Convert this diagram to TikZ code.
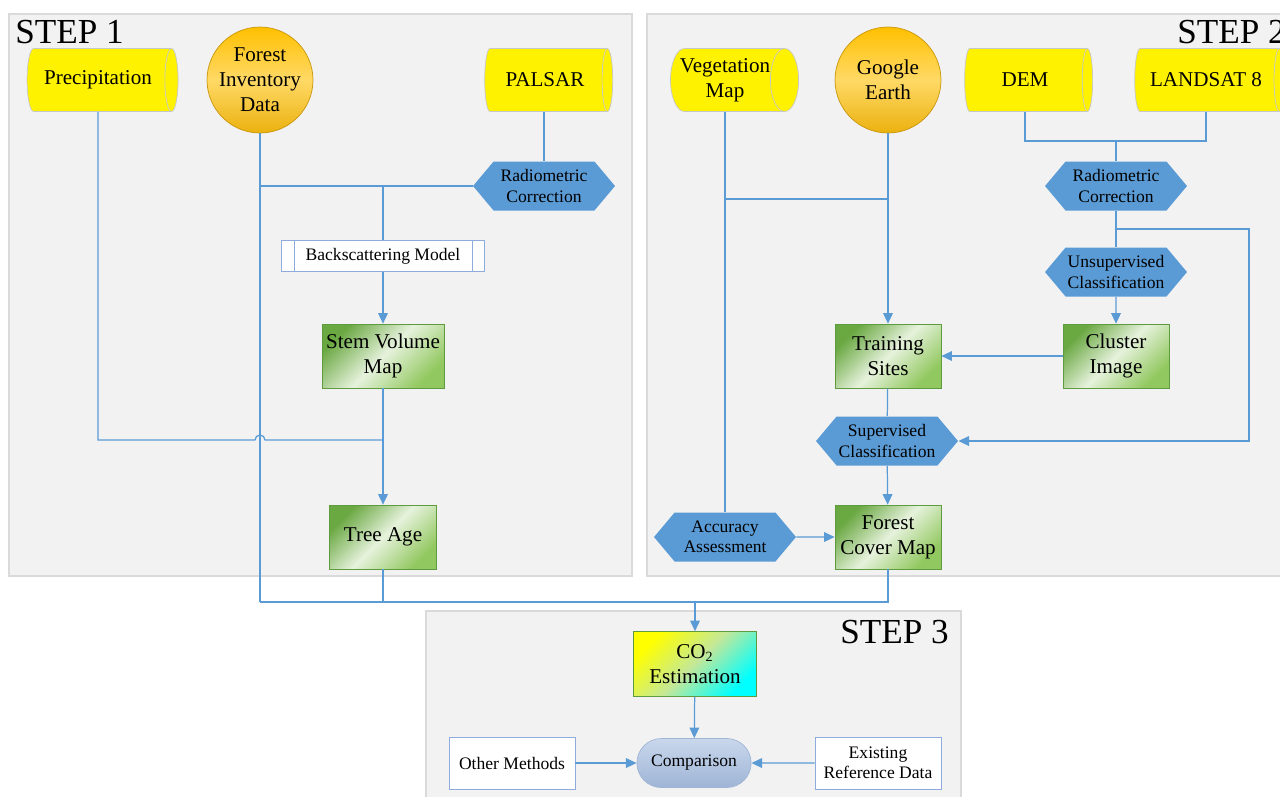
\documentclass[tikz,border=0pt]{standalone}
\usepackage{fontspec}
\setmainfont{Liberation Serif}
\usetikzlibrary{shapes.geometric,shapes.symbols,shapes.misc,arrows.meta}
\definecolor{panelfill}{HTML}{F2F2F2}
\definecolor{panelline}{HTML}{DADADA}
\definecolor{linkblue}{HTML}{5B9BD5}
\definecolor{hexblue}{HTML}{5B9BD5}
\definecolor{boxblue}{HTML}{8FAADC}
\definecolor{leafdark}{HTML}{6AA842}
\definecolor{leaflight}{HTML}{E6F2DC}
\definecolor{leafmid}{HTML}{92C860}
\definecolor{leafline}{HTML}{5E9A3E}
\definecolor{orangetop}{HTML}{FFC000}
\definecolor{orangemid}{HTML}{FFD966}
\definecolor{orangebot}{HTML}{EBB10F}
\definecolor{pilltop}{HTML}{C9D7EC}
\definecolor{pillbot}{HTML}{9FB5D6}
\definecolor{co2mid}{HTML}{C2E89A}
\newcommand{\bigtxt}{\fontsize{12}{14.2}\selectfont}
\newcommand{\smalltxt}{\fontsize{10}{11.5}\selectfont}
\newcommand{\steptxt}{\fontsize{20}{24}\selectfont}
\tikzset{panel/.style={draw=panelline, fill=panelfill, line width=0.8pt},
datasrc/.style={cylinder, shape border rotate=0, aspect=0.6, draw=black!22,
  cylinder uses custom fill, cylinder body fill=yellow, cylinder end fill=yellow,
  minimum height=#1, minimum width=1.26cm, inner xsep=0pt, inner ysep=1pt, font=\bigtxt, align=center},
datasrc/.default={2.56cm},
source/.style={circle, draw=orangebot!85!black, top color=orangetop, bottom color=orangebot,
  middle color=orangemid, minimum size=2.12cm, inner sep=0pt, font=\bigtxt, align=center},
hexa/.style={signal, signal to=east and west, signal pointer angle=100, fill=hexblue,
  minimum width=2.84cm, minimum height=0.98cm, inner sep=0pt, font=\smalltxt, align=center},
result/.style={rectangle, draw=leafline, top color=leafdark, bottom color=leafmid,
  middle color=leaflight, shading angle=45, minimum width=#1, minimum height=1.28cm,
  inner sep=1pt, font=\bigtxt, align=center},
result/.default={2.12cm},
procbox/.style={rectangle, draw=boxblue, fill=white, minimum width=4.06cm, minimum height=0.62cm,
  font=\smalltxt, path picture={
  \draw[boxblue] ([xshift=0.25cm]path picture bounding box.north west) -- ([xshift=0.25cm]path picture bounding box.south west)
  ([xshift=-0.25cm]path picture bounding box.north east) -- ([xshift=-0.25cm]path picture bounding box.south east);}},
plainbox/.style={rectangle, draw=boxblue, fill=white, minimum width=2.52cm, minimum height=1.04cm,
  inner sep=1pt, font=\smalltxt, align=center},
link/.style={draw=linkblue, line width=0.7pt},
feed/.style={link, -{Triangle[length=6pt,width=5.5pt]}}}

\begin{document}
\begin{tikzpicture}[x=0.02cm, y=-0.02cm]

    \useasboundingbox (0,0) rectangle (1280,796);
    \clip (0,0) rectangle (1280,796);

    % panels
    \draw[panel] (9,14) rectangle (632,576);
    \draw[panel] (647,14) rectangle (1300,576);
    \draw[panel] (426,611) rectangle (961,820);
    \node[anchor=base west, font=\steptxt, inner sep=0pt] (step1) at (15,43) {STEP 1};
    \node[anchor=base west, font=\steptxt, inner sep=0pt] (step2) at (1177,43) {STEP 2};
    \node[anchor=base west, font=\steptxt, inner sep=0pt] (step3) at (840,643) {STEP 3};

    % step 1
    \node[datasrc=3.02cm] (precip) at (98,80) {Precipitation};
    \node[source] (forest) at (260,80) {Forest\\Inventory\\Data};
    \node[datasrc] (palsar) at (545,80) {PALSAR};
    \node[hexa] (radioA) at (544,186) {Radiometric\\Correction};
    \node[procbox] (backscat) at (383,256) {Backscattering Model};
    \node[result=2.44cm] (stemvol) at (383,356) {Stem Volume\\Map};
    \node[result=2.14cm] (treeage) at (383,537) {Tree Age};

    % step 2
    \node[datasrc] (vegmap) at (725,80) {Vegetation\\Map};
    \node[source] (google) at (888,80) {Google\\Earth};
    \node[datasrc] (dem) at (1025,80) {DEM};
    \node[datasrc=3.0cm] (landsat) at (1206,80) {LANDSAT 8};
    \node[hexa] (radioB) at (1116,186) {Radiometric\\Correction};
    \node[hexa] (unsup) at (1116,272) {Unsupervised\\Classification};
    \node[result] (cluster) at (1116,356) {Cluster\\Image};
    \node[result] (training) at (888,356) {Training\\Sites};
    \node[hexa] (superv) at (887,441) {Supervised\\Classification};
    \node[result] (forestcover) at (888,537) {Forest\\Cover Map};
    \node[hexa] (accuracy) at (725,537) {Accuracy\\Assessment};

    % step 3
    \node[result=2.46cm, top color=yellow, bottom color=cyan, middle color=co2mid,
      shading angle=45, minimum height=1.3cm] (co2) at (695,664) {CO\textsubscript{2}\\Estimation};
    \node[rounded rectangle, draw=pillbot, top color=pilltop, bottom color=pillbot,
      minimum width=2.52cm, minimum height=0.98cm, font=\smalltxt] (compare) at (694,763) {Comparison};
    \node[plainbox] (othermeth) at (512,763) {Other Methods};
    \node[plainbox] (existing) at (878,763) {Existing\\Reference Data};

    \coordinate (bus) at (260,602);
    \coordinate (hop) at (260,440);
    \coordinate (busB) at (1116,141);
    \coordinate (turnB) at (1249,229);
    \coordinate (vjoin) at (725,199);

    % connectors step 1
    \draw[link] (radioA.north |- palsar.south) -- (radioA.north);
    \draw[link] (forest.south) -- (bus);
    \draw[link] (radioA.west) -- (radioA.west -| forest.south);
    \draw[link] (backscat.north |- radioA.west) -- (backscat.north);
    \draw[feed] (backscat) -- (stemvol);
    \draw[feed] (stemvol) -- (treeage);
    \draw[link] (precip.south) |- ([xshift=-0.1cm]hop) arc[start angle=180, end angle=360, radius=5]
      -- (hop -| stemvol.south);
    \draw[link] (treeage.south) -- (treeage.south |- bus);
    \draw[link] (bus) -| (forestcover.south);
    \draw[feed] (co2.north |- bus) -- (co2.north);

    % connectors step 2
    \draw[link] (dem.south) |- (busB) -| (landsat.south);
    \draw[link] (busB) -- (radioB.north);
    \draw[link] (radioB.south) -- (unsup.north);
    \draw[feed] (radioB.south |- turnB) -- (turnB) |- (superv.east);
    \draw[feed] (unsup) -- (cluster);
    \draw[feed] (cluster) -- (training);
    \draw[feed] (google) -- (training);
    \draw[link] (accuracy.north |- vegmap.south) -- (accuracy.north);
    \draw[link] (vjoin) -- (vjoin -| google.south);
    \draw[link] (training) -- (superv);
    \draw[feed] (superv) -- (forestcover);
    \draw[feed] (accuracy) -- (forestcover);

    % connectors step 3
    \draw[feed] (co2) -- (compare);
    \draw[feed] (othermeth) -- (compare);
    \draw[feed] (existing) -- (compare);

\end{tikzpicture}
\end{document}
